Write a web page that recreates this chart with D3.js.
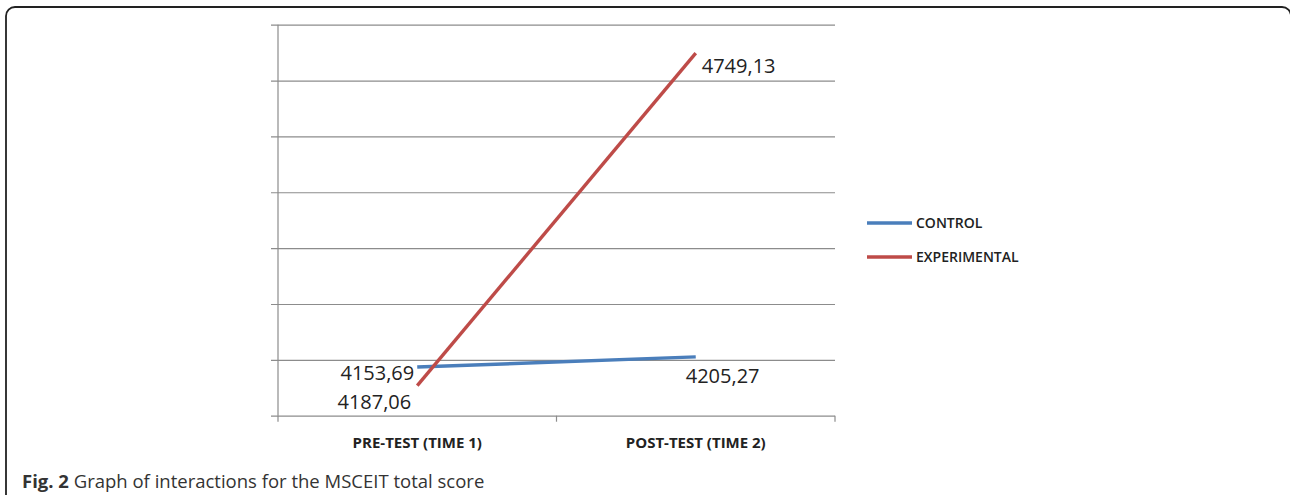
<!DOCTYPE html>
<html>
<head>
<meta charset="utf-8">
<script src="https://cdn.jsdelivr.net/npm/d3@7"></script>
<style>
  body { margin: 0; background: #fff; }
  svg { display: block; }
</style>
</head>
<body>
<div id="chart"></div>
<script>
// Chart data.
var categories = ["PRE-TEST (TIME 1)", "POST-TEST (TIME 2)"],
    seriesNames = ["CONTROL", "EXPERIMENTAL"],
    controlValues = [4187.06, 4205.27],
    experimentalValues = [4153.69, 4749.13],
    yTicks = [4100, 4200, 4300, 4400, 4500, 4600, 4700, 4800];

var w = 1290,
    h = 495,
    plotLeft = 278,
    plotRight = 835,
    plotTop = 24.7,
    plotBottom = 415.7;

var colors = ["#4a7ebb", "#be4b48"];

var svg = d3.select("#chart")
    .append("svg")
    .attr("width", w)
    .attr("height", h);

// Rounded frame round the figure (runs off the bottom edge).
svg.append("rect")
    .attr("x", 6)
    .attr("y", 7)
    .attr("width", 1285)
    .attr("height", 520)
    .attr("rx", 9)
    .style("fill", "none")
    .style("stroke", "#222")
    .style("stroke-width", 1.8);

var x = d3.scalePoint()
    .domain(categories)
    .range([plotLeft, plotRight])
    .padding(0.5);

var y = d3.scaleLinear()
    .domain([4100, 4800])
    .range([plotBottom, plotTop]);

// Horizontal gridlines, with the little tick stubs left of the axis.
svg.append("g")
    .attr("transform", "translate(" + plotLeft + ",0)")
    .call(d3.axisLeft(y).tickValues(yTicks).tickFormat(""))
    .call(function (g) {
        g.select(".domain").remove();
        g.selectAll(".tick line")
            .attr("x1", -7)
            .attr("x2", plotRight - plotLeft)
            .style("stroke", "#8c8c8c")
            .style("stroke-width", 1.2);
    });

// Vertical axis line.
svg.append("line")
    .attr("x1", plotLeft).attr("x2", plotLeft)
    .attr("y1", plotTop).attr("y2", plotBottom)
    .style("stroke", "#8c8c8c")
    .style("stroke-width", 1.2);

// Category boundary ticks under the x axis.
var bounds = [plotLeft, (plotLeft + plotRight) / 2, plotRight];
svg.selectAll("line.xtick")
    .data(bounds)
    .enter()
    .append("line")
    .attr("class", "xtick")
    .attr("x1", function (d) { return d; })
    .attr("x2", function (d) { return d; })
    .attr("y1", plotBottom)
    .attr("y2", plotBottom + 6)
    .style("stroke", "#8c8c8c")
    .style("stroke-width", 1.2);

// Category labels.
svg.selectAll("text.cat")
    .data(categories)
    .enter()
    .append("text")
    .attr("class", "cat")
    .attr("x", function (d) { return x(d); })
    .attr("y", 448)
    .attr("text-anchor", "middle")
    .style("font-family", "'Open Sans', sans-serif")
    .style("font-weight", "bold")
    .style("font-size", "15px")
    .style("fill", "#222")
    .text(function (d) { return d; });

// Lines for each series.
var line = d3.line()
    .x(function (d, i) { return x(categories[i]); })
    .y(function (d) { return y(d); });

var series = [controlValues, experimentalValues];

svg.selectAll("path.series")
    .data(series)
    .enter()
    .append("path")
    .attr("class", "series")
    .attr("d", line)
    .style("fill", "none")
    .style("stroke", function (d, i) { return colors[i]; })
    .style("stroke-width", 3.4);

// Value labels, placed as in the figure (offsets from each point).
var fmt = function (v) { return v.toFixed(2).replace(".", ","); };
var labelOffsets = [
    [[-6, 42, "end"], [-10, 26, "start"]],   // control
    [[-3, -6, "end"], [6, 20, "start"]]      // experimental
];

series.forEach(function (vals, s) {
    vals.forEach(function (v, i) {
        var o = labelOffsets[s][i];
        svg.append("text")
            .attr("x", x(categories[i]) + o[0])
            .attr("y", y(v) + o[1])
            .attr("text-anchor", o[2])
            .style("font-family", "'Open Sans', sans-serif")
            .style("font-size", "20px")
            .style("fill", "#222")
            .text(fmt(v));
    });
});

// Legend.
var legend = svg.selectAll("g.legend")
    .data(seriesNames)
    .enter()
    .append("g")
    .attr("class", "legend")
    .attr("transform", function (d, i) { return "translate(867," + (223 + i * 34) + ")"; });

legend.append("line")
    .attr("x1", 0).attr("x2", 45)
    .style("stroke", function (d, i) { return colors[i]; })
    .style("stroke-width", 3.4);

legend.append("text")
    .attr("x", 49)
    .attr("y", 5)
    .style("font-family", "'Open Sans', sans-serif")
    .style("font-weight", "600")
    .style("font-size", "14px")
    .style("fill", "#222")
    .text(function (d) { return d; });

// Figure caption.
var cap = svg.append("text")
    .attr("x", 22)
    .attr("y", 488)
    .style("font-family", "'Open Sans', sans-serif")
    .style("font-size", "18.5px")
    .style("fill", "#333");
cap.append("tspan").style("font-weight", "bold").text("Fig. 2");
cap.append("tspan").text(" Graph of interactions for the MSCEIT total score");
</script>
</body>
</html>
